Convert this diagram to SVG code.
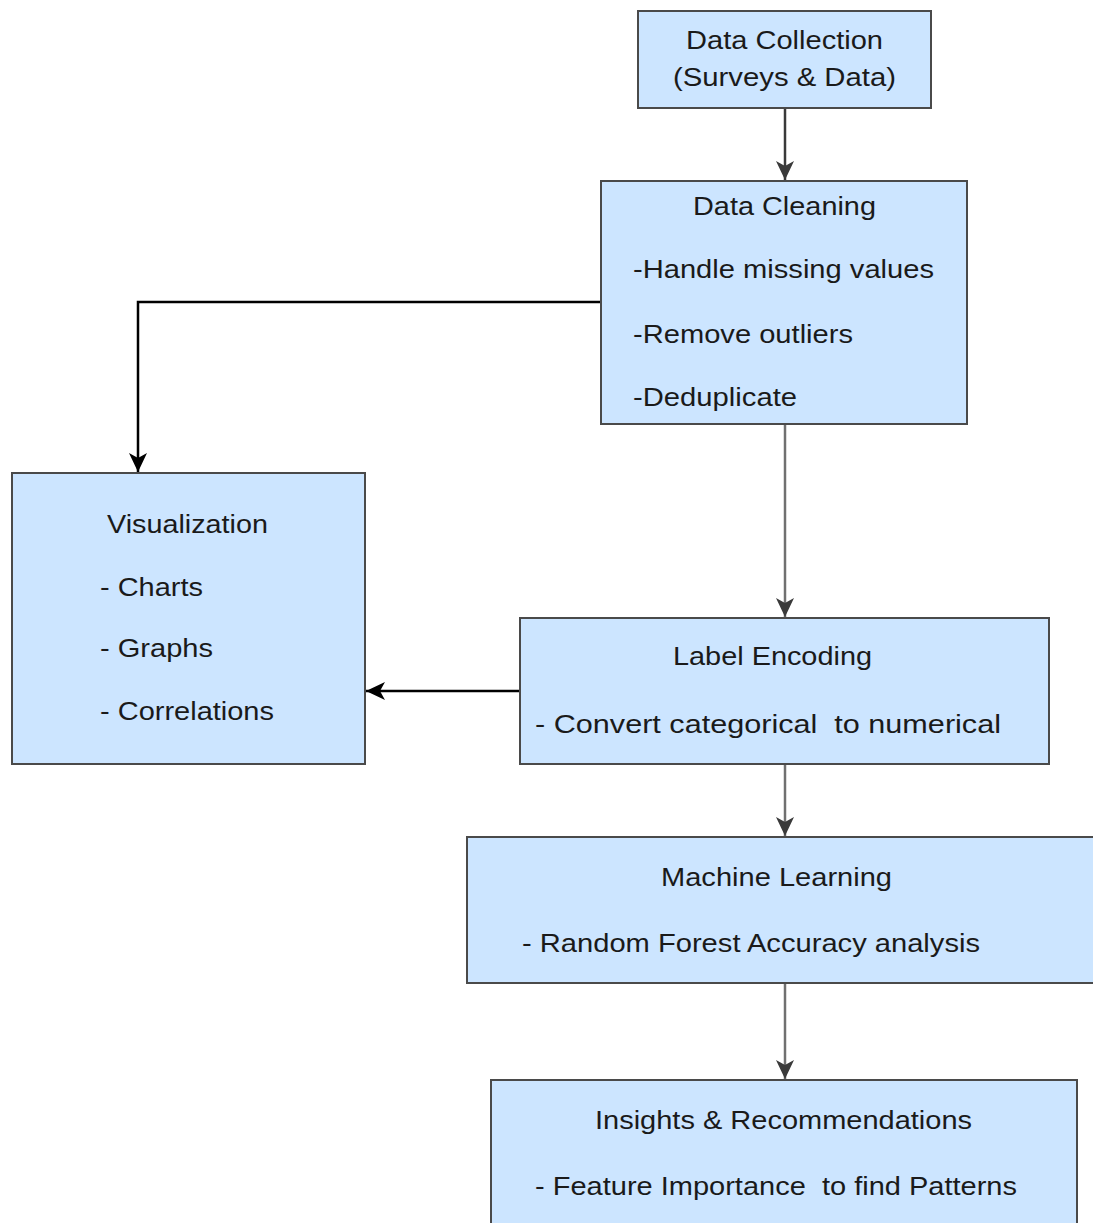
<svg xmlns="http://www.w3.org/2000/svg" width="1093" height="1223" viewBox="0 0 1093 1223">
<style>
.box{fill:#cce5ff;stroke:#4a4a4a;stroke-width:2}
text{font-family:"Liberation Sans",Arial,sans-serif;font-size:26px;fill:#1a1a1a}
.c{text-anchor:middle}
.pre{white-space:pre}
.edge{fill:none;stroke-width:2.5}
.gray{stroke:#707070}
.dark{stroke:#3a3a3a}
.black{stroke:#000}
</style>
<defs>
<marker id="ag" markerUnits="userSpaceOnUse" markerWidth="22" markerHeight="20" refX="19" refY="9" orient="auto">
<path d="M0,0 L19,9 L0,18 L5,9 Z" fill="#3a3a3a"/>
</marker>
<marker id="ab" markerUnits="userSpaceOnUse" markerWidth="22" markerHeight="20" refX="19" refY="9" orient="auto">
<path d="M0,0 L19,9 L0,18 L5,9 Z" fill="#000"/>
</marker>
</defs>
<rect width="1093" height="1223" fill="#fff"/>
<g id="connectors">
<path class="edge dark" d="M785,108 L785,180" marker-end="url(#ag)"/>
<path class="edge gray" d="M785,424 L785,617" marker-end="url(#ag)"/>
<path class="edge gray" d="M785,764 L785,836" marker-end="url(#ag)"/>
<path class="edge gray" d="M785,983 L785,1079" marker-end="url(#ag)"/>
<path class="edge black" d="M601,302 L138,302 L138,472" marker-end="url(#ab)"/>
<path class="edge black" d="M520,691 L366,691" marker-end="url(#ab)"/>
</g>
<g id="data-collection">
<rect class="box" x="638" y="11" width="293" height="97"/>
<text class="c" x="784.5" y="49" textLength="197" lengthAdjust="spacingAndGlyphs">Data Collection</text>
<text class="c" x="784.5" y="86" textLength="223" lengthAdjust="spacingAndGlyphs">(Surveys &amp; Data)</text>
</g>
<g id="data-cleaning">
<rect class="box" x="601" y="181" width="366" height="243"/>
<text class="c" x="784.5" y="215" textLength="183" lengthAdjust="spacingAndGlyphs">Data Cleaning</text>
<text x="633" y="278" textLength="301" lengthAdjust="spacingAndGlyphs">-Handle missing values</text>
<text x="633" y="343" textLength="220" lengthAdjust="spacingAndGlyphs">-Remove outliers</text>
<text x="633" y="406" textLength="164" lengthAdjust="spacingAndGlyphs">-Deduplicate</text>
</g>
<g id="visualization">
<rect class="box" x="12" y="473" width="353" height="291"/>
<text class="c" x="187.5" y="533" textLength="161" lengthAdjust="spacingAndGlyphs">Visualization</text>
<text x="100" y="596" textLength="103" lengthAdjust="spacingAndGlyphs">- Charts</text>
<text x="100" y="657" textLength="113" lengthAdjust="spacingAndGlyphs">- Graphs</text>
<text x="100" y="720" textLength="174" lengthAdjust="spacingAndGlyphs">- Correlations</text>
</g>
<g id="label-encoding">
<rect class="box" x="520" y="618" width="529" height="146"/>
<text class="c" x="772.5" y="665" textLength="199" lengthAdjust="spacingAndGlyphs">Label Encoding</text>
<text class="pre" xml:space="preserve" x="535" y="733" textLength="466" lengthAdjust="spacingAndGlyphs">- Convert categorical  to numerical</text>
</g>
<g id="machine-learning">
<rect class="box" x="467" y="837" width="640" height="146"/>
<text class="c" x="776.5" y="886" textLength="231" lengthAdjust="spacingAndGlyphs">Machine Learning</text>
<text x="522" y="952" textLength="458" lengthAdjust="spacingAndGlyphs">- Random Forest Accuracy analysis</text>
</g>
<g id="insights">
<rect class="box" x="491" y="1080" width="586" height="160"/>
<text class="c" x="783.5" y="1129" textLength="377" lengthAdjust="spacingAndGlyphs">Insights &amp; Recommendations</text>
<text class="pre" xml:space="preserve" x="535" y="1195" textLength="482" lengthAdjust="spacingAndGlyphs">- Feature Importance  to find Patterns</text>
</g>
</svg>
